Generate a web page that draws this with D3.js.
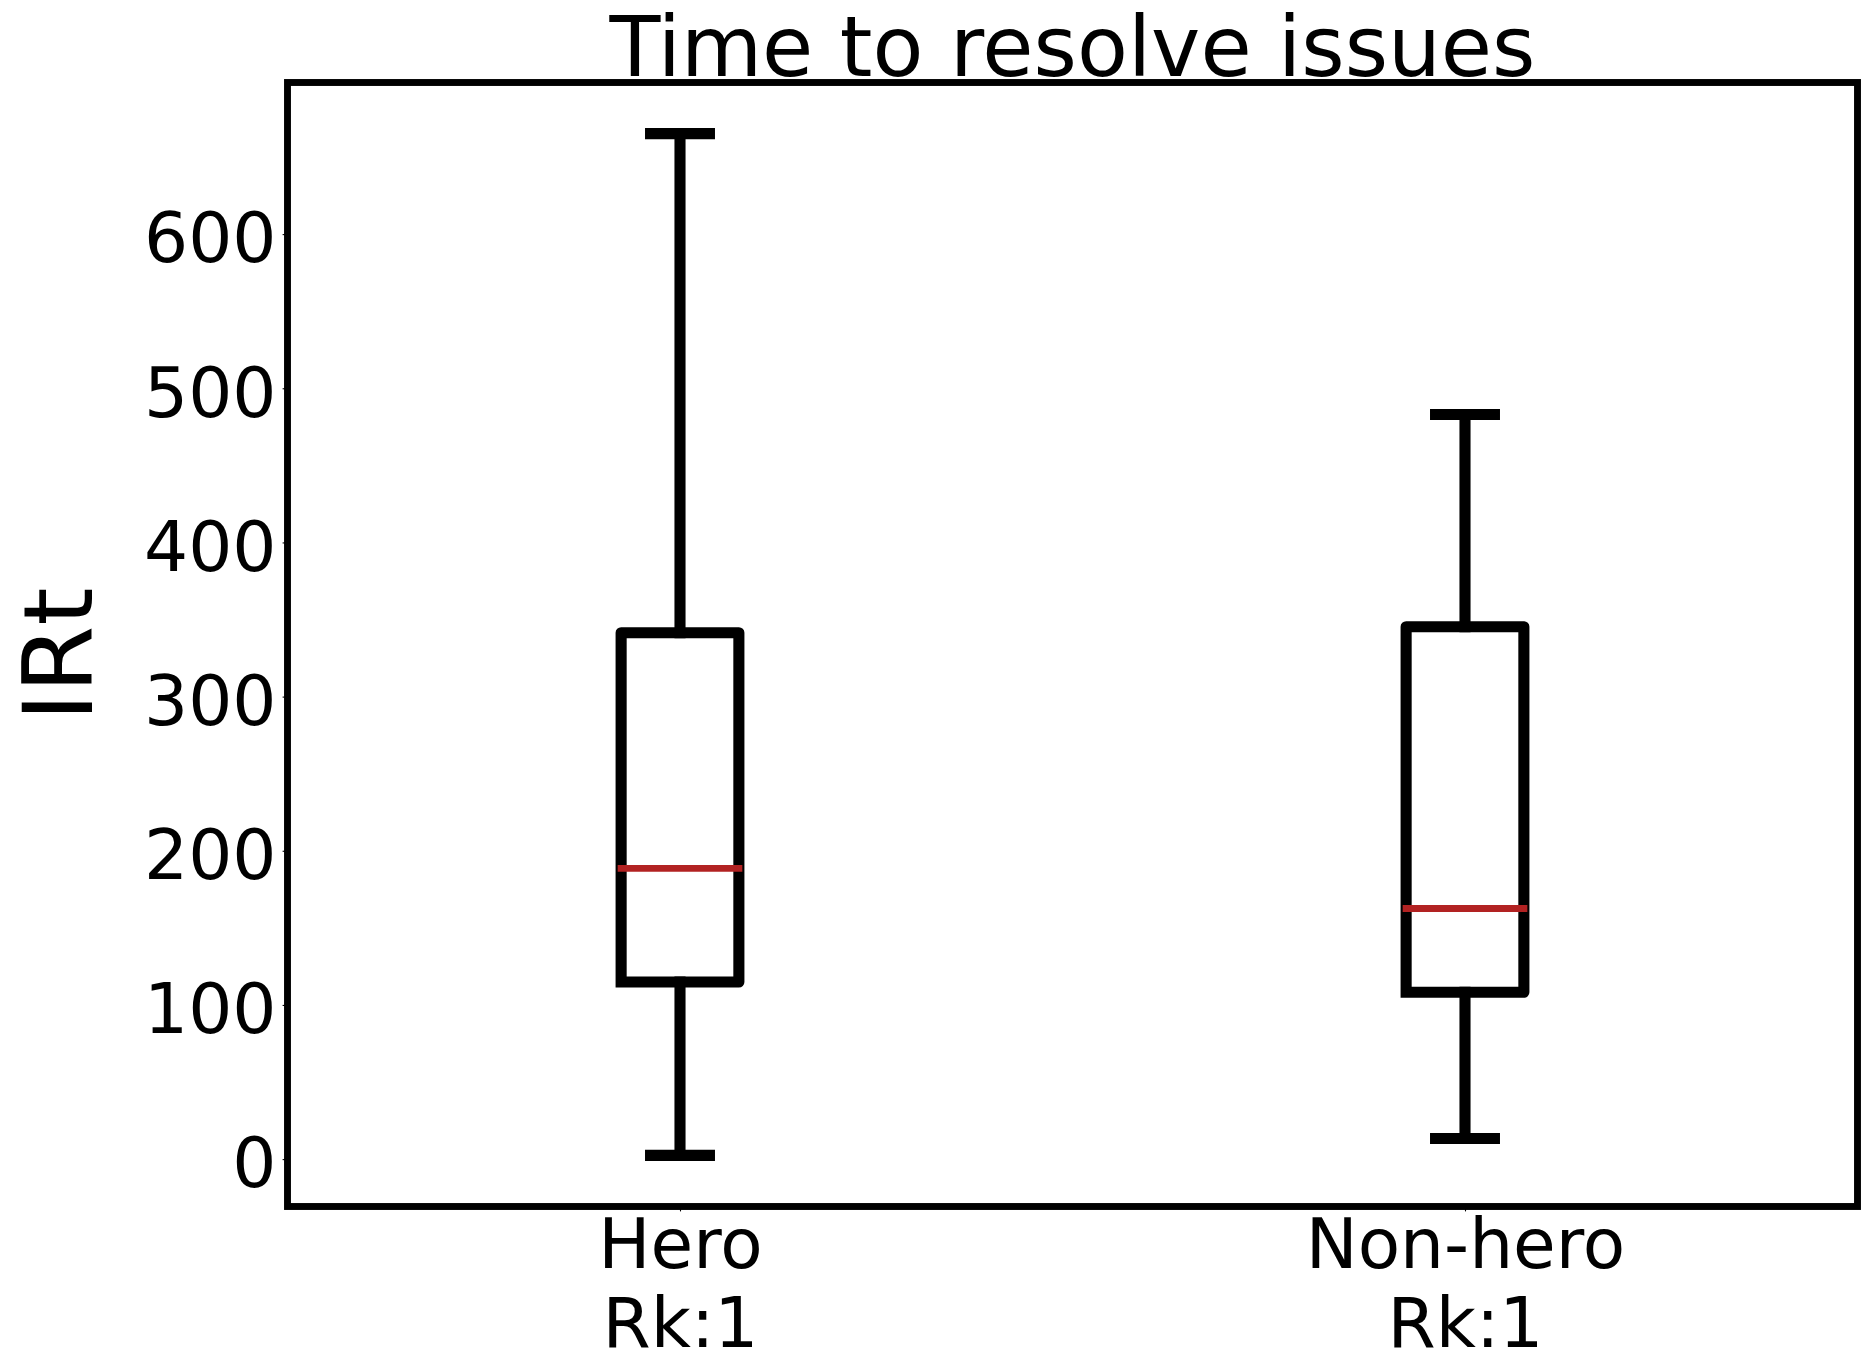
<!DOCTYPE html>
<html>
<head>
<meta charset="utf-8">
<script src="https://cdn.jsdelivr.net/npm/d3@7"></script>
<style>
  html, body { margin: 0; padding: 0; background: #ffffff; }
  svg { display: block; }
  text { font-family: "DejaVu Sans", sans-serif; fill: #000; }
</style>
</head>
<body>
<div id="chart"></div>
<script>
// ---- data ----
const categories = ["Hero", "Non-hero"];
const rankLabels = ["Rk:1", "Rk:1"];
const positions = [1, 2];
const whiskerLow = [2.4, 13.4];
const q1 = [114.9, 108.2];
const medians = [188.6, 162.6];
const q3 = [341.4, 345.3];
const whiskerHigh = [665.2, 483.0];
const yTicks = [0, 100, 200, 300, 400, 500, 600];
const titleText = "Time to resolve issues";
const yLabelText = "IRt";

// ---- layout ----
const W = 1870, H = 1370;
const plot = { left: 287.5, right: 1857.5, top: 82.5, bottom: 1206.5 };
const boxWidth = 0.15;      // data units
const capWidth = 0.075;     // data units
const lw = 11.1, medLw = 6.9, frameLw = 6.9;
const tickFont = 69.4, titleFont = 83.3, yLabelFont = 97;

const svg = d3.select("#chart").append("svg")
  .attr("width", W).attr("height", H).attr("viewBox", `0 0 ${W} ${H}`);

const lo = d3.min(whiskerLow), hi = d3.max(whiskerHigh);
const pad = (hi - lo) * 0.05;
const y = d3.scaleLinear().domain([lo - pad, hi + pad]).range([plot.bottom, plot.top]);
const x = d3.scaleLinear().domain([0.5, 2.5]).range([plot.left, plot.right]);

const data = categories.map((c, i) => ({
  name: c, rank: rankLabels[i], pos: positions[i],
  lo: whiskerLow[i], q1: q1[i], med: medians[i], q3: q3[i], hi: whiskerHigh[i]
}));

// ---- boxes ----
const g = svg.append("g");
data.forEach(d => {
  const x0 = x(d.pos - boxWidth / 2), x1 = x(d.pos + boxWidth / 2), xc = x(d.pos);
  const c0 = x(d.pos - capWidth / 2), c1 = x(d.pos + capWidth / 2);
  const common = s => s.attr("stroke", "#000").attr("stroke-width", lw)
    .attr("fill", "none").attr("stroke-linecap", "square").attr("stroke-linejoin", "round");
  // whiskers
  g.append("line").attr("x1", xc).attr("x2", xc).attr("y1", y(d.q1)).attr("y2", y(d.lo)).call(common);
  g.append("line").attr("x1", xc).attr("x2", xc).attr("y1", y(d.q3)).attr("y2", y(d.hi)).call(common);
  // caps
  g.append("line").attr("x1", c0).attr("x2", c1).attr("y1", y(d.lo)).attr("y2", y(d.lo)).call(common);
  g.append("line").attr("x1", c0).attr("x2", c1).attr("y1", y(d.hi)).attr("y2", y(d.hi)).call(common);
  // box
  const p = d3.path();
  p.moveTo(x0, y(d.q1)); p.lineTo(x1, y(d.q1)); p.lineTo(x1, y(d.q3));
  p.lineTo(x0, y(d.q3)); p.lineTo(x0, y(d.q1));
  g.append("path").attr("d", p.toString()).call(common);
  // median
  g.append("line").attr("x1", x0).attr("x2", x1).attr("y1", y(d.med)).attr("y2", y(d.med))
    .attr("stroke", "#b22222").attr("stroke-width", medLw).attr("stroke-linecap", "square");
});

// ---- y axis ----
const yAxis = d3.axisLeft(y).tickValues(yTicks).tickSize(4.9).tickPadding(6.1).tickFormat(d3.format("d"));
const ya = svg.append("g").attr("transform", `translate(${plot.left},0)`).call(yAxis);
ya.select(".domain").remove();
ya.selectAll(".tick line").attr("stroke", "#000").attr("stroke-width", 1.1);
ya.selectAll(".tick text").attr("font-size", tickFont).attr("font-family", "DejaVu Sans")
  .attr("dy", "0.40em").attr("fill", "#000");

// ---- x axis ----
const xAxis = d3.axisBottom(x).tickValues(positions).tickSize(4.9).tickFormat("");
const xa = svg.append("g").attr("transform", `translate(0,${plot.bottom})`).call(xAxis);
xa.select(".domain").remove();
xa.selectAll(".tick line").attr("stroke", "#000").attr("stroke-width", 1.1);
xa.selectAll(".tick").each(function (p, i) {
  const t = d3.select(this).append("text").attr("text-anchor", "middle")
    .attr("font-size", tickFont).attr("font-family", "DejaVu Sans").attr("fill", "#000");
  t.append("tspan").attr("x", 0).attr("y", 61.8).text(data[i].name);
  t.append("tspan").attr("x", 0).attr("y", 140.2).text(data[i].rank);
});

// ---- frame ----
svg.append("rect")
  .attr("x", x(0.5)).attr("y", y.range()[1])
  .attr("width", x(2.5) - x(0.5)).attr("height", y.range()[0] - y.range()[1])
  .attr("fill", "none").attr("stroke", "#000").attr("stroke-width", frameLw);

// ---- title & label ----
svg.append("text").attr("x", (plot.left + plot.right) / 2).attr("y", 75.5)
  .attr("text-anchor", "middle").attr("font-size", titleFont).text(titleText);

svg.append("text")
  .attr("transform", `translate(92,${(plot.top + plot.bottom) / 2 + 10}) rotate(-90)`)
  .attr("text-anchor", "middle").attr("font-size", yLabelFont).text(yLabelText);
</script>
</body>
</html>
